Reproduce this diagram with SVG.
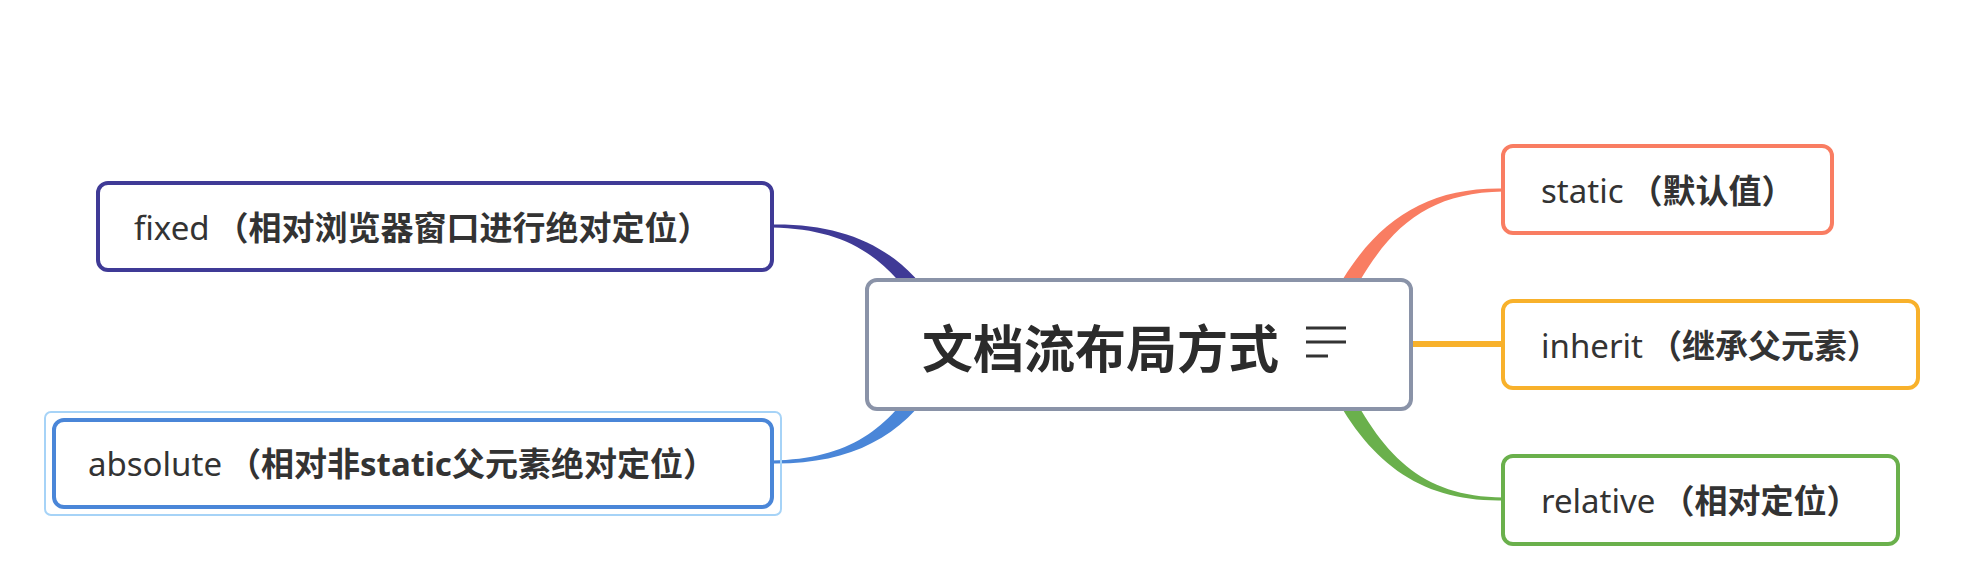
<svg xmlns="http://www.w3.org/2000/svg" width="1981" height="574" viewBox="0 0 1981 574">
<style>
.lbl{font-family:"Noto Sans","Noto Sans CJK SC",sans-serif;font-size:33px;fill:#333333;dominant-baseline:central;text-spacing-trim:space-all}
.b{font-weight:bold}
.title{font-family:"Noto Sans CJK SC","Noto Sans",sans-serif;font-size:51px;font-weight:bold;fill:#2b2b2b;dominant-baseline:central}
.node{fill:#ffffff;stroke-width:4}
</style>
<rect width="1981" height="574" fill="#ffffff"/>
<g id="connectors">
  <path d="M936.8,305.7 C901.8,250.7 850,223.5 772,224.5 L772,227.5 C850,229 888.2,259.3 923.2,314.3 Z" fill="#3f3a96"/>
  <path d="M936.8,382.3 C901.8,437.3 850,464.5 772,463.5 L772,460.5 C850,459 888.2,428.7 923.2,373.7 Z" fill="#4a86d8"/>
  <path d="M1327.8,306.4 C1367.8,226.4 1420,187 1503,188.5 L1503,191.5 C1420,193 1382.2,233.6 1342.2,313.6 Z" fill="#f97d62"/>
  <rect x="1400" y="341" width="103" height="6" fill="#f8b12b"/>
  <path d="M1327.8,382.6 C1367.8,462.6 1420,502 1503,500.5 L1503,497.5 C1420,496 1382.2,455.4 1342.2,375.4 Z" fill="#6ab04c"/>
</g>
<g id="center">
  <rect class="node" x="867" y="280" width="544" height="129" rx="10" stroke="#8a93a8"/>
  <text class="title" x="922" y="346">文档流布局方式</text>
  <g stroke="#333333" stroke-width="3">
    <line x1="1306" y1="328" x2="1346" y2="328"/>
    <line x1="1306" y1="342" x2="1346" y2="342"/>
    <line x1="1306" y1="356" x2="1328" y2="356"/>
  </g>
</g>
<g id="fixed">
  <rect class="node" x="98" y="183" width="674" height="87" rx="10" stroke="#3f3a96"/>
  <text class="lbl" x="134" y="227">fixed<tspan class="b" dx="6">（相对浏览器窗口进行绝对定位）</tspan></text>
</g>
<g id="absolute">
  <rect x="45" y="412" width="736" height="103" rx="6" fill="none" stroke="#a6d3f7" stroke-width="2"/>
  <rect class="node" x="54" y="420" width="718" height="87" rx="10" stroke="#4a86d8"/>
  <text class="lbl" x="88" y="463">absolute<tspan class="b" dx="6">（相对非static父元素绝对定位）</tspan></text>
</g>
<g id="static">
  <rect class="node" x="1503" y="146" width="329" height="87" rx="10" stroke="#f97d62"/>
  <text class="lbl" x="1541" y="190">static<tspan class="b" dx="6">（默认值）</tspan></text>
</g>
<g id="inherit">
  <rect class="node" x="1503" y="301" width="415" height="87" rx="10" stroke="#f8b12b"/>
  <text class="lbl" x="1541" y="345">inherit<tspan class="b" dx="6">（继承父元素）</tspan></text>
</g>
<g id="relative">
  <rect class="node" x="1503" y="456" width="395" height="88" rx="10" stroke="#6ab04c"/>
  <text class="lbl" x="1541" y="500">relative<tspan class="b" dx="6">（相对定位）</tspan></text>
</g>
</svg>
